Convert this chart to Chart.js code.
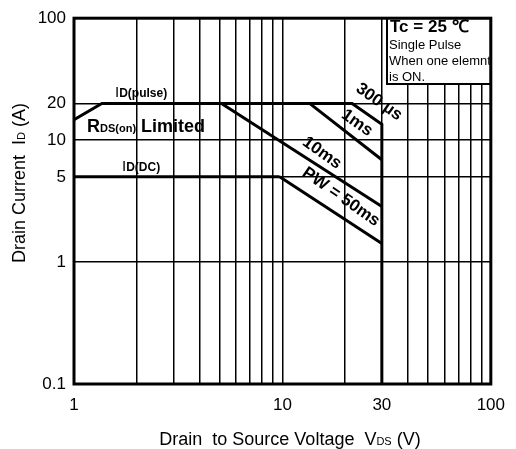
<!DOCTYPE html>
<html>
<head>
<meta charset="utf-8">
<script src="https://cdn.jsdelivr.net/npm/chart.js@4"></script>
<style>
  html, body { margin: 0; padding: 0; background: #fff; }
  #wrap { width: 516px; height: 449px; }
</style>
</head>
<body>
<div id="wrap"><canvas id="soa"></canvas></div>
<script>
// safe operating area (V in volts, I in amps)
const envV = [1, 1.36, 21.6, 30, 30];   // Rds(on) -> Id(pulse) -> 300us -> 30V
const envI = [14.7, 20, 20, 13.5, 0.1];
const ms1V = [13.5, 30];
const ms1I = [20, 6.9];
const ms10V = [5.1, 30];
const ms10I = [20, 2.85];
const ms50V = [9.7, 30];
const ms50I = [5, 1.42];
const dcV = [1, 9.7];
const dcI = [5, 5];

const xGrid = [1, 2, 3, 4, 5, 6, 7, 8, 9, 10, 20, 30, 40, 50, 60, 70, 80, 90, 100];
const xLabels = [1, 10, 30, 100];
const yTicks = [0.1, 1, 5, 10, 20, 100];

const FAM = "'Liberation Sans', Arial, sans-serif";

const pts = (xs, ys) => xs.map((x, i) => ({ x: x, y: ys[i] }));

function line(xs, ys) {
  return {
    data: pts(xs, ys),
    showLine: true,
    borderColor: '#000',
    borderWidth: 3,
    pointRadius: 0,
    fill: false,
    tension: 0
  };
}

// draws text made of pieces with different fonts (for subscripts)
function runs(ctx, parts, x, y, align) {
  let total = 0;
  parts.forEach(p => { ctx.font = p.f + ' ' + FAM; total += ctx.measureText(p.t).width; });
  let cx = align === 'center' ? x - total / 2 : x;
  ctx.textAlign = 'left';
  ctx.textBaseline = 'alphabetic';
  parts.forEach(p => {
    ctx.font = p.f + ' ' + FAM;
    ctx.fillText(p.t, cx, y);
    cx += ctx.measureText(p.t).width;
  });
}

const decor = {
  id: 'decor',
  afterDatasetsDraw(chart) {
    const ctx = chart.ctx;
    const a = chart.chartArea;
    ctx.save();
    ctx.fillStyle = '#000';
    ctx.strokeStyle = '#000';

    // info box, top right
    ctx.fillStyle = '#fff';
    ctx.fillRect(387, a.top, a.right - 387, 84 - a.top);
    ctx.lineWidth = 2;
    ctx.strokeRect(387, a.top, a.right - 387, 84 - a.top);
    ctx.fillStyle = '#000';
    runs(ctx, [{ t: 'Tc = 25 \u2103', f: 'bold 17px' }], 390, 32);
    runs(ctx, [{ t: 'Single Pulse', f: '13px' }], 389, 49);
    runs(ctx, [{ t: 'When one elemnt', f: '13px' }], 389, 65);
    runs(ctx, [{ t: 'is ON.', f: '13px' }], 389, 81);

    // frame
    ctx.lineWidth = 3;
    ctx.strokeRect(a.left, a.top, a.right - a.left, a.bottom - a.top);

    // curve labels
    runs(ctx, [{ t: 'I', f: '15px' }, { t: 'D(pulse)', f: 'bold 12px' }], 115, 97);
    runs(ctx, [{ t: 'R', f: 'bold 18px' }, { t: 'DS(on)', f: 'bold 11px' }, { t: ' Limited', f: 'bold 18px' }], 87, 132);
    runs(ctx, [{ t: 'I', f: '15px' }, { t: 'D(DC)', f: 'bold 12px' }], 122, 171);

    const tilted = [
      { t: '300 \u00b5s', x: 379, y: 102 },
      { t: '1ms', x: 357, y: 123 },
      { t: '10ms', x: 322, y: 153 },
      { t: 'PW = 50ms', x: 341, y: 197 }
    ];
    tilted.forEach(l => {
      ctx.save();
      ctx.translate(l.x, l.y);
      ctx.rotate(35 * Math.PI / 180);
      ctx.font = 'bold 17px ' + FAM;
      ctx.textAlign = 'center';
      ctx.textBaseline = 'middle';
      ctx.fillText(l.t, 0, 0);
      ctx.restore();
    });

    // axis titles
    runs(ctx, [{ t: 'Drain  to Source Voltage  V', f: '18px' }, { t: 'DS', f: '11px' }, { t: ' (V)', f: '18px' }], 290, 445, 'center');
    ctx.save();
    ctx.translate(25, 183);
    ctx.rotate(-Math.PI / 2);
    runs(ctx, [{ t: 'Drain Current  I', f: '18px' }, { t: 'D', f: '11px' }, { t: ' (A)', f: '18px' }], 0, 0, 'center');
    ctx.restore();

    ctx.restore();
  }
};

new Chart(document.getElementById('soa'), {
  type: 'scatter',
  data: {
    datasets: [
      line(envV, envI),
      line(ms1V, ms1I),
      line(ms10V, ms10I),
      line(ms50V, ms50I),
      line(dcV, dcI)
    ]
  },
  options: {
    responsive: true,
    maintainAspectRatio: false,
    animation: false,
    layout: { padding: { top: 15, right: 24, left: 0, bottom: 0 } },
    plugins: {
      legend: { display: false },
      tooltip: { enabled: false }
    },
    scales: {
      x: {
        type: 'logarithmic',
        min: 1,
        max: 100,
        afterBuildTicks: s => { s.ticks = xGrid.map(v => ({ value: v })); },
        afterFit: s => { s.height = 65; },
        grid: { color: '#000', lineWidth: 1.5, drawTicks: false },
        border: { display: false },
        ticks: {
          color: '#000',
          font: { family: FAM, size: 17 },
          padding: 11,
          autoSkip: false,
          maxRotation: 0,
          callback: v => xLabels.includes(v) ? String(v) : ''
        }
      },
      y: {
        type: 'logarithmic',
        min: 0.1,
        max: 100,
        afterBuildTicks: s => { s.ticks = yTicks.map(v => ({ value: v })); },
        afterFit: s => { s.width = 74; },
        grid: { color: '#000', lineWidth: 1.5, drawTicks: false },
        border: { display: false },
        ticks: {
          color: '#000',
          font: { family: FAM, size: 17 },
          padding: 8,
          autoSkip: false,
          callback: v => yTicks.includes(v) ? String(v) : ''
        }
      }
    }
  },
  plugins: [decor]
});
</script>
</body>
</html>
